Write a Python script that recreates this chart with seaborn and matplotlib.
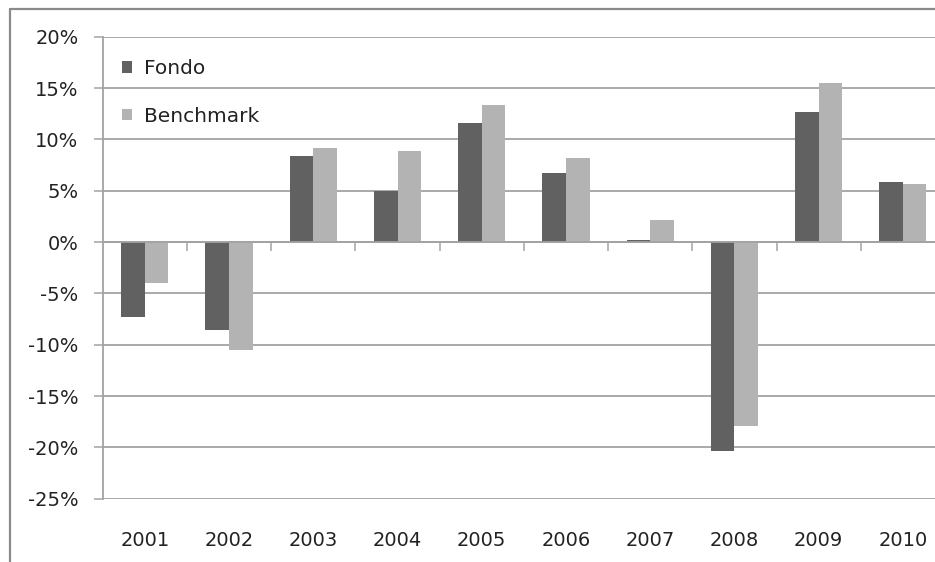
import matplotlib
matplotlib.use("Agg")
import matplotlib.pyplot as plt
from matplotlib.lines import Line2D
from matplotlib.ticker import FuncFormatter, MultipleLocator, FixedLocator
import seaborn as sns
import pandas as pd

years = ["2001", "2002", "2003", "2004", "2005", "2006", "2007", "2008", "2009", "2010"]
fondo = [-7.3, -8.6, 8.4, 5.0, 11.6, 6.7, 0.2, -20.4, 12.7, 5.8]
benchmark = [-4.0, -10.5, 9.2, 8.9, 13.3, 8.2, 2.1, -17.9, 15.5, 5.7]
series_names = ["Fondo", "Benchmark"]
colors = ["#616161", "#b3b3b3"]

df = pd.DataFrame({
    "year": years * 2,
    "value": fondo + benchmark,
    "series": [series_names[0]] * len(years) + [series_names[1]] * len(years),
})

sns.set_theme(style="white")
plt.rcParams["font.family"] = ["DejaVu Sans"]
plt.rcParams["axes.unicode_minus"] = False

W, H = 935, 562
fig = plt.figure(figsize=(W / 100, H / 100), dpi=100)
left, right, top, bottom = 102.7, 945.0, 36.7, 498.7
ax = fig.add_axes([left / W, 1 - bottom / H, (right - left) / W, (bottom - top) / H])

sns.barplot(data=df, x="year", y="value", hue="series", palette=colors,
            width=0.56, saturation=1, linewidth=0, ax=ax, legend=True)

grid_c = "#a3a3a3"
ax.set_ylim(-25, 20)
ax.set_xlim(-0.5, 9.5)
ax.yaxis.set_major_locator(MultipleLocator(5))
ax.yaxis.set_major_formatter(FuncFormatter(lambda v, p: f"{v:.0f}%"))
ax.set_axisbelow(True)
ax.grid(axis="y", color=grid_c, linewidth=1.3)
ax.grid(axis="x", visible=False)
ax.set_xlabel("")
ax.set_ylabel("")

for s in ["right", "bottom"]:
    ax.spines[s].set_visible(False)
ax.spines["left"].set_color(grid_c)
ax.spines["left"].set_linewidth(1.3)
ax.spines["top"].set_position(("data", 0))
ax.spines["top"].set_color(grid_c)
ax.spines["top"].set_linewidth(1.3)
ax.spines["top"].set_zorder(3)

ax.tick_params(axis="y", which="major", left=True, direction="out", length=6.5,
               width=1.1, color=grid_c, pad=11, labelsize=14, labelcolor="#222222")
ax.xaxis.set_ticks_position("both")
ax.xaxis.set_minor_locator(FixedLocator([i + 0.5 for i in range(9)]))
ax.tick_params(axis="x", which="major", length=0, top=False, bottom=False,
               pad=23, labelsize=14, labelcolor="#222222")
ax.tick_params(axis="x", which="minor", top=True, bottom=False, direction="in",
               length=6.5, width=1.1, color=grid_c)

handles, labels = ax.get_legend_handles_labels()
ax.legend(handles, labels, loc="upper left",
          bbox_to_anchor=(122 / W, 1 - 59 / H), bbox_transform=fig.transFigure,
          frameon=False, fontsize=14.5, handlelength=0.5, handleheight=0.5,
          handletextpad=0.6, labelspacing=1.42, borderpad=0, borderaxespad=0,
          labelcolor="#222222")

bx, by = 10 / W, 1 - 8.5 / H
fig.add_artist(Line2D([bx, 1.2], [by, by], transform=fig.transFigure,
                      color="#8a8a8a", linewidth=1.6, clip_on=False))
fig.add_artist(Line2D([bx, bx], [by, -0.2], transform=fig.transFigure,
                      color="#8a8a8a", linewidth=1.6, clip_on=False))

fig.savefig("out.png", dpi=100)
